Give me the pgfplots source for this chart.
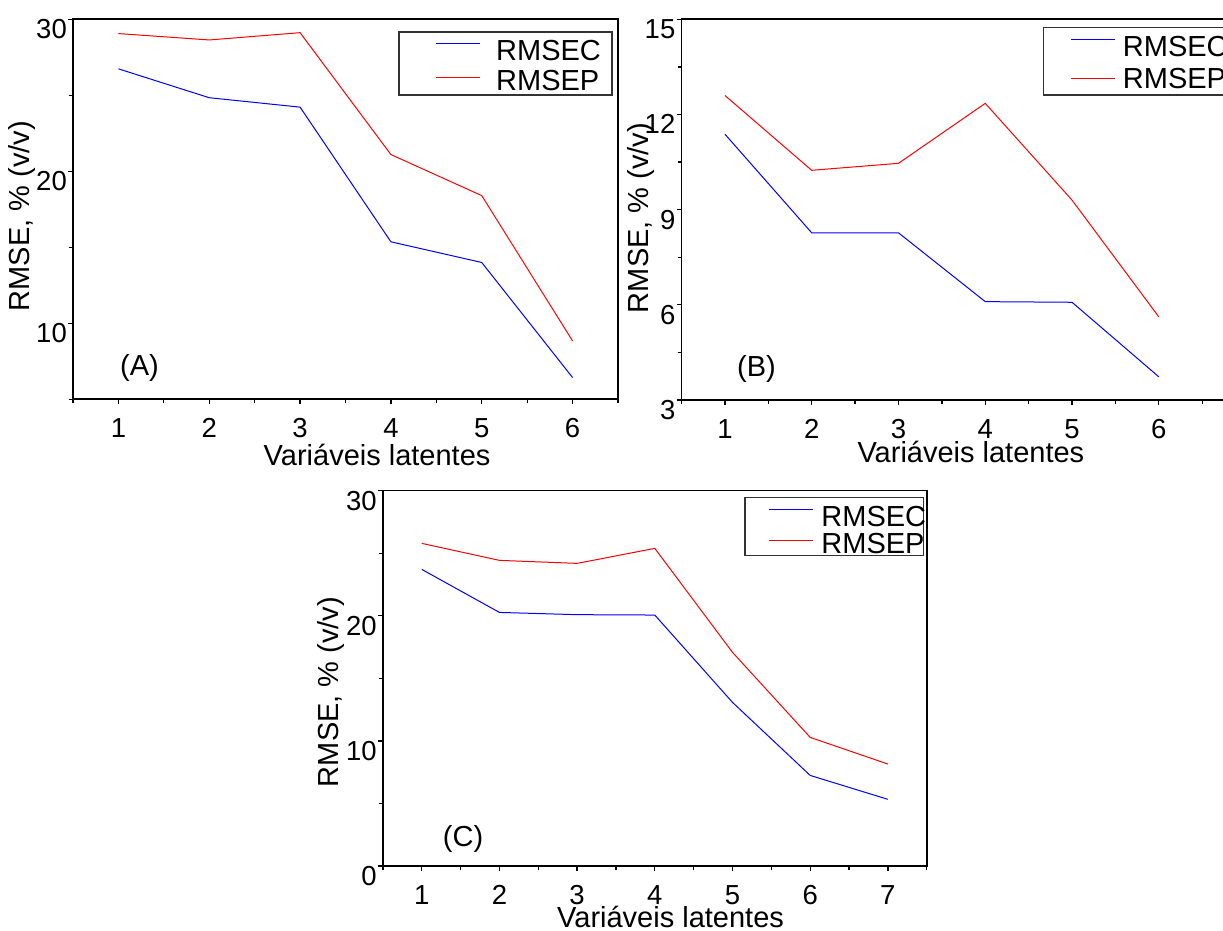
\documentclass[border=0pt]{standalone}
\usepackage{pgfplots}
\pgfplotsset{compat=1.18}
\usepackage{fontspec}
\setmainfont{Liberation Sans}
\newcommand\txtfont{\fontsize{29}{34}\selectfont}
\newcommand\tickfont{\fontsize{27.5}{32}\selectfont}
\pgfplotsset{
  rmse/.style={
    scale only axis,
    axis line style={line width=1.6pt},
    tick style={line width=1.3pt, black},
    tick align=outside,
    major tick length=5pt,
    minor tick length=4pt,
    xtick pos=bottom, ytick pos=left,
    /pgf/number format/assume math mode=true,
    ticklabel style={font=\tickfont, inner sep=0pt},
    yticklabel style={anchor=north east, xshift=-1pt},
    xticklabel style={anchor=north, yshift=-14pt},
    label style={font=\txtfont, inner sep=0pt},
    xlabel={Variáveis latentes},
    ylabel={RMSE, \% (v/v)},
  }
}
% legend sample: a coloured rule of 44pt, centred on the given height
\newcommand\legline[3]{\node[anchor=base west, inner sep=0pt] at (#2,#3) {\textcolor{#1}{\rule[-0.5pt]{44pt}{1pt}}};}
\begin{document}
\begin{tikzpicture}
\path[use as bounding box] (0,0) rectangle (1223pt,931pt);
% Panel A
\begin{axis}[rmse, at={(73pt,531.7pt)}, anchor=south west,
  width=545pt, height=380pt,
  xmin=0.5, xmax=6.5, ymin=5, ymax=30,
  xtick={1,...,6}, minor xtick={0.5,1.5,...,6.5},
  ytick={10,20,30}, minor ytick={5,15,25},
  xlabel style={at={(axis description cs:0.558,-0.173)}, anchor=base},
  ylabel style={at={(axis description cs:-0.0927,0.482)}, anchor=center},
]
\addplot[blue, line width=1pt] coordinates {(1,26.74) (2,24.84) (3,24.22) (4,15.36) (5,14.0) (6,6.43)};
\addplot[red, line width=1pt] coordinates {(1,29.06) (2,28.64) (3,29.12) (4,21.1) (5,18.4) (6,8.84)};
\node[font=\txtfont, anchor=base west, inner sep=0pt] at (axis cs:1.017,6.54) {(A)};
\end{axis}
% Panel B
\begin{axis}[rmse, at={(681.5pt,531pt)}, anchor=south west,
  width=545pt, height=380.7pt,
  xmin=0.5, xmax=6.78, ymin=3, ymax=15,
  xtick={1,...,6}, minor xtick={0.5,1.5,...,6.5},
  ytick={3,6,9,12,15}, minor ytick={4.5,7.5,10.5,13.5},
  xlabel style={at={(axis description cs:0.531,-0.165)}, anchor=base},
  ylabel style={at={(axis description cs:-0.0743,0.478)}, anchor=center},
]
\addplot[blue, line width=1pt] coordinates {(1,11.38) (2,8.27) (3,8.27) (4,6.1) (5,6.08) (6,3.73)};
\addplot[red, line width=1pt] coordinates {(1,12.6) (2,10.24) (3,10.46) (4,12.35) (5,9.3) (6,5.62)};
\node[font=\txtfont, anchor=base west, inner sep=0pt] at (axis cs:1.14,3.73) {(B)};
\end{axis}
% Panel C
\begin{axis}[rmse, at={(382.9pt,65pt)}, anchor=south west,
  width=543.8pt, height=375.3pt,
  xmin=0.5, xmax=7.5, ymin=0, ymax=30,
  xtick={1,...,7}, minor xtick={0.5,1.5,...,7.5},
  ytick={0,10,20,30}, minor ytick={5,15,25},
  xlabel style={at={(axis description cs:0.529,-0.163)}, anchor=base},
  ylabel style={at={(axis description cs:-0.0954,0.4636)}, anchor=center},
]
\addplot[blue, line width=1pt] coordinates {(1,23.71) (2,20.27) (3,20.09) (4,20.06) (5,13.08) (6,7.24) (7,5.33)};
\addplot[red, line width=1pt] coordinates {(1,25.79) (2,24.43) (3,24.19) (4,25.39) (5,17.08) (6,10.28) (7,8.15)};
\node[font=\txtfont, anchor=base west, inner sep=0pt] at (axis cs:1.27,1.54) {(C)};
\end{axis}
% ---- legends (reference pixel positions, y from the top) ----
\begin{scope}[y=-1pt, x=1pt, shift={(0pt,931pt)}]
  % A
  \draw[black!80, line width=1.5pt] (399,32) rectangle (612,95);
  \legline{blue}{436}{43.3}
  \legline{red}{436}{77.3}
  \node[font=\txtfont, anchor=base west, inner sep=0pt] at (496,60.7) {RMSEC};
  \node[font=\txtfont, anchor=base west, inner sep=0pt] at (496,90.7) {RMSEP};
  % B
  \draw[black!80, line width=1.5pt] (1043.3,27.7) rectangle (1240,95);
  \legline{blue}{1071}{40}
  \legline{red}{1071}{78.3}
  \node[font=\txtfont, anchor=base west, inner sep=0pt] at (1122.7,56.7) {RMSEC};
  \node[font=\txtfont, anchor=base west, inner sep=0pt] at (1122.7,88.3) {RMSEP};
  % C
  \draw[black!80, line width=1.5pt] (745,497.3) rectangle (923.7,555.3);
  \legline{blue}{768.6}{509.3}
  \legline{red}{768.6}{540.7}
  \node[font=\txtfont, anchor=base west, inner sep=0pt] at (821.2,526.7) {RMSEC};
  \node[font=\txtfont, anchor=base west, inner sep=0pt] at (821.2,553.3) {RMSEP};
\end{scope}
\end{tikzpicture}
\end{document}
